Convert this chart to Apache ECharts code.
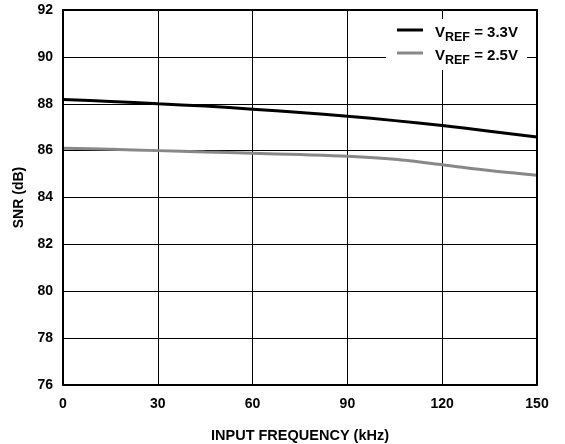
<!DOCTYPE html>
<html>
<head>
<meta charset="utf-8">
<script src="https://cdn.jsdelivr.net/npm/echarts@6/dist/echarts.min.js"></script>
<style>
  html, body { margin: 0; padding: 0; background: #fff; }
  #chart { width: 565px; height: 444px; }
</style>
</head>
<body>
<div id="chart"></div>
<script>
// Input frequency (kHz) and measured SNR (dB) for two reference voltages
const freqKHz = [0, 15, 30, 45, 60, 75, 90, 105, 120, 135, 150];
const snrVref33 = [88.18, 88.10, 88.00, 87.90, 87.77, 87.63, 87.47, 87.28, 87.07, 86.83, 86.58];
const snrVref25 = [86.10, 86.06, 86.00, 85.94, 85.89, 85.83, 85.76, 85.63, 85.40, 85.15, 84.95];
const seriesNames = ['3.3V', '2.5V'];

const font = 'Liberation Sans, Arial, sans-serif';
const chart = echarts.init(document.getElementById('chart'), null, { renderer: 'canvas' });

function pairs(xs, ys) { return xs.map((x, i) => [x, ys[i]]); }

chart.setOption({
  animation: false,
  backgroundColor: '#fff',
  grid: {
    left: 63, right: 28, top: 10, bottom: 59,
    outerBoundsMode: 'none', containLabel: false,
    show: true, borderColor: '#000', borderWidth: 2, z: 10
  },
  legend: {
    orient: 'vertical',
    left: 386,
    top: 19,
    padding: [5, 9, 3, 11],
    backgroundColor: '#fff',
    itemGap: 3,
    itemWidth: 26,
    itemHeight: 3,
    icon: 'rect',
    data: seriesNames,
    formatter: n => '{gap|}{v|V}{s|REF}{v| = ' + n + '}',
    textStyle: {
      fontFamily: font,
      rich: {
        gap: { width: 7 },
        v: { fontSize: 15, fontWeight: 'bold', color: '#000', fontFamily: font, lineHeight: 20, verticalAlign: 'bottom' },
        s: { fontSize: 12.5, fontWeight: 'bold', color: '#000', fontFamily: font, lineHeight: 20, verticalAlign: 'bottom', padding: [0, 0, -4, 0] }
      }
    }
  },
  xAxis: {
    type: 'value', min: 0, max: 150, interval: 30,
    name: 'INPUT FREQUENCY (kHz)', nameLocation: 'middle', nameGap: 43,
    nameTextStyle: { fontFamily: font, fontSize: 14.5, fontWeight: 'bold', color: '#000' },
    axisLine: { show: false }, axisTick: { show: false },
    axisLabel: { margin: 12, fontFamily: font, fontSize: 14, fontWeight: 'bold', color: '#000' },
    splitLine: { show: true, lineStyle: { color: '#000', width: 1 } }
  },
  yAxis: {
    type: 'value', min: 76, max: 92, interval: 2,
    name: 'SNR (dB)', nameLocation: 'middle', nameGap: 36, nameRotate: 90,
    nameTextStyle: { fontFamily: font, fontSize: 14, fontWeight: 'bold', color: '#000' },
    axisLine: { show: false }, axisTick: { show: false },
    axisLabel: { margin: 10, fontFamily: font, fontSize: 14, fontWeight: 'bold', color: '#000' },
    splitLine: { show: true, lineStyle: { color: '#000', width: 1 } }
  },
  series: [
    {
      name: '3.3V', type: 'line', smooth: 0.3, showSymbol: false,
      color: '#000', lineStyle: { color: '#000', width: 3 },
      data: pairs(freqKHz, snrVref33), z: 5
    },
    {
      name: '2.5V', type: 'line', smooth: 0.3, showSymbol: false,
      color: '#888', lineStyle: { color: '#888', width: 3 },
      data: pairs(freqKHz, snrVref25), z: 4
    }
  ]
});
</script>
</body>
</html>
